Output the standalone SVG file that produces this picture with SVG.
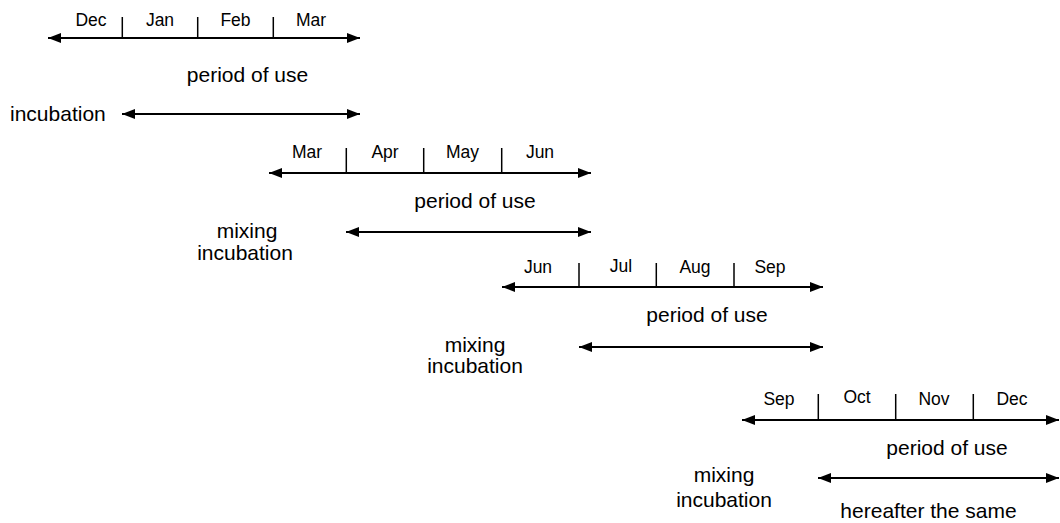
<svg xmlns="http://www.w3.org/2000/svg" width="1060" height="523" viewBox="0 0 1060 523">
<style>
.ax{stroke:#000;stroke-width:2;fill:none;marker-start:url(#ah);marker-end:url(#ah)}
.tk{stroke:#000;stroke-width:1.5}
.m{font-family:"Liberation Sans",Arial,sans-serif;font-size:17.5px;fill:#000;text-anchor:middle}
.l{font-family:"Liberation Sans",Arial,sans-serif;font-size:21px;fill:#000;text-anchor:middle}
</style>
<defs>
<marker id="ah" viewBox="0 0 13 10" refX="13" refY="5" markerWidth="13" markerHeight="10" markerUnits="userSpaceOnUse" orient="auto-start-reverse">
<path d="M0,0 L13,5 L0,10 z" fill="#000"/>
</marker>
</defs>
<rect width="1060" height="523" fill="#fff"/>
<g id="connectors">
<line class="ax" x1="48" y1="38" x2="360" y2="38"/>
<line class="ax" x1="122" y1="114" x2="360" y2="114"/>
<line class="ax" x1="269" y1="173" x2="591" y2="173"/>
<line class="ax" x1="346" y1="232" x2="591" y2="232"/>
<line class="ax" x1="502" y1="287" x2="823" y2="287"/>
<line class="ax" x1="579" y1="347" x2="823" y2="347"/>
<line class="ax" x1="742" y1="420" x2="1059" y2="420"/>
<line class="ax" x1="818" y1="478" x2="1059" y2="478"/>
</g>
<g id="block1">
<line class="tk" x1="122.3" y1="17" x2="122.3" y2="38"/>
<line class="tk" x1="197.7" y1="17" x2="197.7" y2="38"/>
<line class="tk" x1="273.3" y1="17" x2="273.3" y2="38"/>
<text class="m" x="91" y="26">Dec</text>
<text class="m" x="160" y="26">Jan</text>
<text class="m" x="235.5" y="26">Feb</text>
<text class="m" x="311" y="26">Mar</text>
<text class="l" x="247.5" y="82">period of use</text>
<text class="l" x="10" y="121" style="text-anchor:start">incubation</text>
</g>
<g id="block2">
<line class="tk" x1="346.3" y1="148" x2="346.3" y2="173"/>
<line class="tk" x1="423.7" y1="148" x2="423.7" y2="173"/>
<line class="tk" x1="501.7" y1="148" x2="501.7" y2="173"/>
<text class="m" x="307" y="158">Mar</text>
<text class="m" x="385" y="158">Apr</text>
<text class="m" x="462.5" y="158">May</text>
<text class="m" x="540" y="158">Jun</text>
<text class="l" x="475" y="208">period of use</text>
<text class="l" x="247" y="238">mixing</text>
<text class="l" x="245" y="260">incubation</text>
</g>
<g id="block3">
<line class="tk" x1="579" y1="263" x2="579" y2="287"/>
<line class="tk" x1="656.3" y1="263" x2="656.3" y2="287"/>
<line class="tk" x1="734" y1="263" x2="734" y2="287"/>
<text class="m" x="538" y="273">Jun</text>
<text class="m" x="621" y="272">Jul</text>
<text class="m" x="695" y="273">Aug</text>
<text class="m" x="770" y="273">Sep</text>
<text class="l" x="707" y="322">period of use</text>
<text class="l" x="475" y="352">mixing</text>
<text class="l" x="475" y="373">incubation</text>
</g>
<g id="block4">
<line class="tk" x1="818.3" y1="394" x2="818.3" y2="420"/>
<line class="tk" x1="895.7" y1="394" x2="895.7" y2="420"/>
<line class="tk" x1="973.3" y1="394" x2="973.3" y2="420"/>
<text class="m" x="779" y="405">Sep</text>
<text class="m" x="857" y="403">Oct</text>
<text class="m" x="934" y="405">Nov</text>
<text class="m" x="1012" y="405">Dec</text>
<text class="l" x="947" y="455">period of use</text>
<text class="l" x="724" y="482">mixing</text>
<text class="l" x="724" y="507">incubation</text>
<text class="l" x="928.5" y="518">hereafter the same</text>
</g>
</svg>
